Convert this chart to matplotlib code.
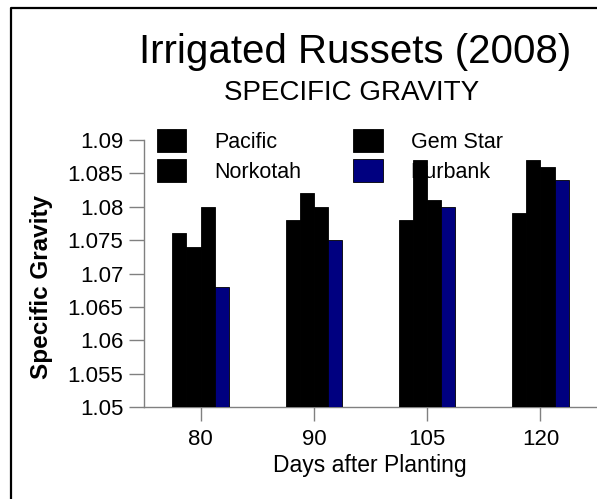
import matplotlib
matplotlib.use('Agg')
import matplotlib.pyplot as plt
from matplotlib.lines import Line2D
import numpy as np

plt.rcParams['font.family'] = ['Liberation Sans', 'DejaVu Sans']

days = ['80', '90', '105', '120']
varieties = ['Pacific', 'Gem Star', 'Norkotah', 'Burbank']
pacific = [1.076, 1.078, 1.078, 1.079]
gem_star = [1.074, 1.082, 1.087, 1.087]
norkotah = [1.080, 1.080, 1.081, 1.086]
burbank = [1.068, 1.075, 1.080, 1.084]
yticks = [1.05, 1.055, 1.06, 1.065, 1.07, 1.075, 1.08, 1.085, 1.09]
ytick_labels = ['1.05', '1.055', '1.06', '1.065', '1.07', '1.075', '1.08', '1.085', '1.09']

W, H = 597, 499
fig = plt.figure(figsize=(W / 100, H / 100), dpi=100)
ax = fig.add_axes([144 / W, (H - 407) / H, (W - 144) / W, 267 / H])

x = np.arange(len(days))
bw = 0.125
colors = ['black', 'black', 'black', '#000080']
series = [pacific, gem_star, norkotah, burbank]
bars = []
for i, (vals, c) in enumerate(zip(series, colors)):
    b = ax.bar(x + (i - 1.5) * bw, vals, bw, color=c, edgecolor='black',
               linewidth=0.6, zorder=3, label=varieties[i])
    bars.append(b)

ax.set_xlim(-0.5, 3.5)
ax.set_ylim(1.05, 1.09)
ax.set_yticks(yticks, ytick_labels)
ax.set_xticks(x, days)

grey = '#808080'
for s in ['top', 'right']:
    ax.spines[s].set_visible(False)
for s in ['left', 'bottom']:
    ax.spines[s].set_color(grey)
    ax.spines[s].set_linewidth(1.0)
ax.tick_params(axis='y', length=11, width=1, color=grey, pad=4, labelsize=16)
ax.tick_params(axis='x', length=10, width=1, color=grey, pad=6, labelsize=16)

# legend sits underneath the bars
order = [0, 2, 1, 3]
leg = ax.legend([bars[k] for k in order], [varieties[k] for k in order],
                ncol=2, frameon=False, loc='upper left',
                bbox_to_anchor=(157 / W, (H - 129) / H),
                bbox_transform=fig.transFigure, borderpad=0, borderaxespad=0,
                fontsize=15.5, handlelength=1.37, handleheight=1.28,
                labelspacing=0.3, handletextpad=1.3, columnspacing=2.4)
leg.set_zorder(1)
leg.set_clip_on(False)

fig.text(355 / W, (H - 63) / H, 'Irrigated Russets (2008)', fontsize=29,
         ha='center', va='baseline')
fig.text(352 / W, (H - 100) / H, 'SPECIFIC GRAVITY', fontsize=20,
         ha='center', va='baseline')
fig.text(370 / W, (H - 472) / H, 'Days after Planting', fontsize=16.5,
         ha='center', va='baseline')
fig.text(42 / W, (H - 287) / H, 'Specific Gravity', fontsize=17.5,
         fontweight='bold', rotation=90, ha='center', va='center')

# outer frame (left and top edges only visible)
fig.add_artist(Line2D([11 / W, 11 / W, 1.0], [0.0, (H - 7.5) / H, (H - 7.5) / H],
                      transform=fig.transFigure, color='black', linewidth=1.6))

fig.savefig('out.png', dpi=100)
